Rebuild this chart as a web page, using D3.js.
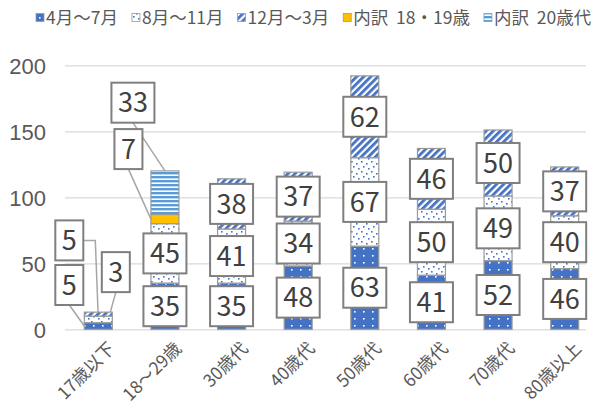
<!DOCTYPE html>
<html lang="ja">
<head>
<meta charset="UTF-8" />
<title>年代別</title>
<script src="https://d3js.org/d3.v7.min.js"></script>
<style>
  body { margin: 0; background: #fff; }
  svg { font-family: "Noto Sans CJK JP", "Noto Sans", sans-serif; }
  .grid line { stroke: #d9d9d9; stroke-width: 1.3; }
  .grid path { display: none; }
  .grid text { fill: #595959; font-size: 22px; }
  .cat text { fill: #595959; font-size: 17.5px; }
  .legend text { fill: #595959; font-size: 17.5px; }
</style>
</head>
<body>
<svg width="595" height="405"></svg>
<script>
// Data
const categories = ["17歳以下", "18～29歳", "30歳代", "40歳代", "50歳代", "60歳代", "70歳代", "80歳以上"];
const seriesNames = ["4月～7月", "8月～11月", "12月～3月", "内訳 18・19歳", "内訳 20歳代"];
const aprJul = [5, 35, 35, 48, 63, 41, 52, 46];
const augNov = [5, 45, 41, 34, 67, 50, 49, 40];
const decMar = [3, 0, 38, 37, 62, 46, 50, 37];
const age1819 = [0, 7, 0, 0, 0, 0, 0, 0];
const age20s = [0, 33, 0, 0, 0, 0, 0, 0];
const yTicks = [0, 50, 100, 150, 200];

const seriesValues = [aprJul, augNov, decMar, age1819, age20s];
const rows = categories.map((c, i) => {
  const r = { cat: c };
  seriesNames.forEach((s, j) => (r[s] = seriesValues[j][i]));
  return r;
});

// labels that Excel moved off the bar (pixel offsets from segment centre)
const labelMoves = {
  "17歳以下|4月～7月": { dx: -29, dy: -41, ax: 0, ay: 0.5, from: "bottom" },
  "17歳以下|8月～11月": { dx: -29, dy: -79, ax: 0.5, ay: 0.5, from: "elbow" },
  "17歳以下|12月～3月": { dx: 17.5, dy: -42, ax: 0.93, ay: 0, from: "bottom" },
  "18～29歳|内訳 18・19歳": { dx: -36.5, dy: -70, ax: 0, ay: 0.5, from: "bottom" },
  "18～29歳|内訳 20歳代": { dx: -32, dy: -90, ax: 0.5, ay: 0, from: "bottom" },
};

const svg = d3.select("svg");
const defs = svg.append("defs");

// Patterns
const blue = "#4472C4";
let p = defs.append("pattern").attr("id", "p0").attr("patternUnits", "userSpaceOnUse").attr("width", 9).attr("height", 7);
p.append("rect").attr("width", 9).attr("height", 7).attr("fill", blue);
p.append("rect").attr("x", 3).attr("y", 3).attr("width", 1.6).attr("height", 1.6).attr("fill", "#fff");

p = defs.append("pattern").attr("id", "p1").attr("patternUnits", "userSpaceOnUse").attr("width", 10).attr("height", 10);
p.append("rect").attr("width", 10).attr("height", 10).attr("fill", "#fff");
[[1, 1], [6, 3], [3, 6], [8, 8]].forEach(([x, y]) =>
  p.append("rect").attr("x", x).attr("y", y).attr("width", 1.6).attr("height", 1.6).attr("fill", blue));

p = defs.append("pattern").attr("id", "p2").attr("patternUnits", "userSpaceOnUse").attr("width", 5).attr("height", 5)
  .attr("patternTransform", "rotate(45)");
p.append("rect").attr("width", 5).attr("height", 5).attr("fill", "#fff");
p.append("rect").attr("width", 2.8).attr("height", 5).attr("fill", blue);

p = defs.append("pattern").attr("id", "p3").attr("patternUnits", "userSpaceOnUse").attr("width", 4).attr("height", 4);
p.append("rect").attr("width", 4).attr("height", 4).attr("fill", "#FFC000");

p = defs.append("pattern").attr("id", "p4").attr("patternUnits", "userSpaceOnUse").attr("width", 4).attr("height", 4);
p.append("rect").attr("width", 4).attr("height", 4).attr("fill", "#fff");
p.append("rect").attr("width", 4).attr("height", 2.4).attr("fill", "#5B9BD5");

// Scales
const x = d3.scaleBand().domain(categories).range([65, 598]).paddingInner(0.58).paddingOuter(0.29);
const y = d3.scaleLinear().domain([0, 200]).range([329.3, 65.3]);

// Grid + y labels
svg.append("g").attr("class", "grid")
  .attr("transform", "translate(65,0)")
  .call(d3.axisLeft(y).tickValues(yTicks).tickSize(-521).tickPadding(19))
  .selectAll("text").attr("dy", "0.35em");

// Category labels
svg.append("g").attr("class", "cat")
  .selectAll("text").data(categories).join("text")
  .attr("text-anchor", "end")
  .attr("transform", (d) => `translate(${x(d) + x.bandwidth() / 2 + 9},${341}) rotate(-45)`)
  .attr("dy", "0.7em")
  .text((d) => d);

const stack = d3.stack().keys(seriesNames)(rows);
const segs = [];
stack.forEach((layer, j) => layer.forEach((d) => {
  if (d[1] - d[0] > 0) segs.push({ s: j, key: seriesNames[j], cat: d.data.cat, y0: d[0], y1: d[1], v: d[1] - d[0] });
}));

const leaderG = svg.append("g");
const barG = svg.append("g");
const labelG = svg.append("g");

barG.selectAll("rect").data(segs).join("rect")
  .attr("x", (d) => x(d.cat))
  .attr("width", x.bandwidth())
  .attr("y", (d) => y(d.y1))
  .attr("height", (d) => y(d.y0) - y(d.y1))
  .attr("fill", (d) => `url(#p${d.s})`)
  .attr("stroke", "#9a9a9a")
  .attr("stroke-width", 1.2);

// Data labels
segs.forEach((d) => {
  const cx = x(d.cat) + x.bandwidth() / 2;
  const cy = (y(d.y0) + y(d.y1)) / 2;
  const mv = labelMoves[d.cat + "|" + d.key];
  const lx = cx + (mv ? mv.dx : 0);
  const ly = cy + (mv ? mv.dy : 0);
  const g = labelG.append("g");
  const box = g.append("rect");
  const t = g.append("text").attr("x", lx).attr("y", ly).attr("dy", "0.36em")
    .attr("text-anchor", "middle").attr("fill", "#404040").attr("font-size", 27).text(d.v);
  const w = t.node().getComputedTextLength() + 13;
  const h = 40;
  box.attr("x", lx - w / 2).attr("y", ly - h / 2).attr("width", w).attr("height", h)
    .attr("fill", "#fff").attr("stroke", "#7f7f7f").attr("stroke-width", 2);
  if (mv) {
    const axp = x(d.cat) + mv.ax * x.bandwidth();
    const ayp = y(d.y1) + mv.ay * (y(d.y0) - y(d.y1));
    let pts;
    if (mv.from === "elbow") pts = [[lx + w / 2, ly], [axp - 3, ly], [axp, ayp]];
    else pts = [[lx, ly + h / 2], [axp, ayp]];
    leaderG.append("path").attr("d", d3.line()(pts))
      .attr("fill", "none").attr("stroke", "#a6a6a6").attr("stroke-width", 1.5);
  }
});

// Legend
const lg = svg.append("g").attr("class", "legend");
let lxPos = 36;
seriesNames.forEach((s, j) => {
  lg.append("rect").attr("x", lxPos).attr("y", 13.5).attr("width", 8).attr("height", 8)
    .attr("fill", `url(#p${j})`).attr("stroke", "#9a9a9a").attr("stroke-width", 0.8);
  const t = lg.append("text").attr("x", lxPos + 10).attr("y", 17.5).attr("dy", "0.36em")
    .attr("xml:space", "preserve").text(s.replace(" ", "  "));
  lxPos += 10 + t.node().getComputedTextLength() + 14;
});
</script>
</body>
</html>
